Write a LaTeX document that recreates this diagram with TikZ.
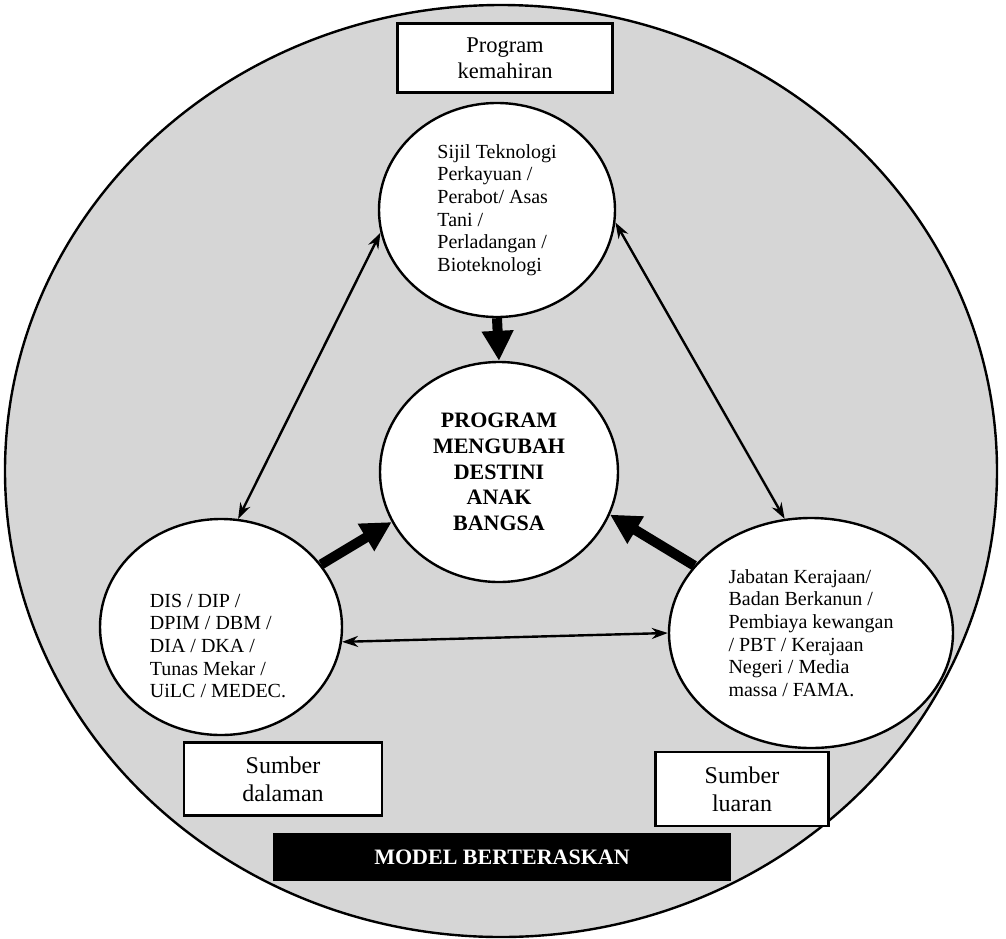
\documentclass[tikz,border=0pt]{standalone}
\usepackage{fontspec}
\setmainfont{Liberation Serif}
\usetikzlibrary{arrows.meta,shapes.geometric}

\begin{document}
\begin{tikzpicture}[x=1pt,y=-1pt,<->,>={Stealth[length=16pt,width=11pt]},line width=2.4pt]
  \tikzstyle{bubble}=[ellipse,draw,fill=white,inner sep=0pt,align=left,font=\fontsize{20}{22.7}\selectfont]
  \tikzstyle{tag}=[rectangle,draw,fill=white,line width=2.8pt,inner sep=0pt,align=center]
  \tikzstyle{push}=[-{Triangle[length=30pt,width=30pt]},line width=10pt]

  \useasboundingbox (0,0) rectangle (1006,938);
  \node[ellipse,draw,fill=gray!32,minimum width=992pt,minimum height=932pt] (model) at (501,471) {};

  \node[tag,minimum width=215pt,minimum height=69pt,font=\fontsize{22.5}{26}\selectfont] (skill) at (505,58) {Program\\kemahiran};
  \node[bubble,minimum width=236pt,minimum height=214pt] (sijil) at (497,210) {Sijil Teknologi\\Perkayuan /\\Perabot/ Asas\\Tani /\\Perladangan /\\Bioteknologi};
  \node[bubble,minimum width=238pt,minimum height=220pt,align=center,font=\fontsize{22}{25.7}\selectfont\bfseries] (prog) at (499,472) {PROGRAM\\MENGUBAH\\DESTINI\\ANAK\\BANGSA};
  \node[bubble,minimum width=242pt,minimum height=216pt] (dis) at (221,627) {};
  \node[align=left,inner sep=0pt,font=\fontsize{20}{22.7}\selectfont] (distext) at (218,646) {DIS / DIP /\\DPIM / DBM /\\DIA / DKA /\\Tunas Mekar /\\UiLC / MEDEC.};
  \node[bubble,minimum width=284pt,minimum height=230pt] (jab) at (811,633) {Jabatan Kerajaan/\\Badan Berkanun /\\Pembiaya kewangan\\/ PBT / Kerajaan\\Negeri / Media\\massa / FAMA.};

  \node[tag,minimum width=198pt,minimum height=73pt,font=\fontsize{24}{28}\selectfont] (inside) at (283,779) {Sumber\\dalaman};
  \node[tag,minimum width=173pt,minimum height=74pt,font=\fontsize{24}{28}\selectfont] (outside) at (742,789) {Sumber\\luaran};
  \node[tag,fill=black,text=white,minimum width=455pt,minimum height=45pt,font=\fontsize{22}{26}\selectfont\bfseries] (base) at (502,857) {MODEL BERTERASKAN};

  \path (dis.81)  edge (sijil.191)
        (sijil.354) edge (jab.103)
        (dis.353) edge (jab.180);

  \path (sijil.south) edge[push] (prog.north)
        (dis.32) edge[push] (prog.205)
        (jab.150) edge[push] (prog.339);
\end{tikzpicture}
\end{document}
